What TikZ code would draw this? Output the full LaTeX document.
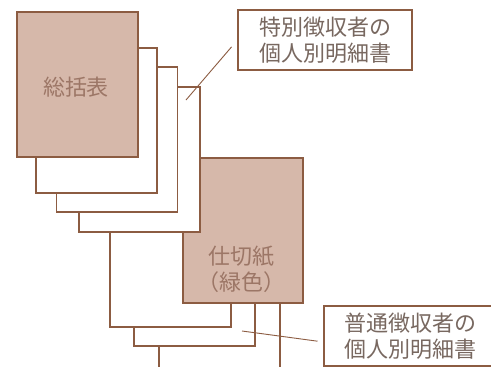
\documentclass[tikz,border=0pt]{standalone}
\usepackage{fontspec}
\newfontfamily\jpfont{Noto Sans CJK JP}
\definecolor{sheetline}{RGB}{140,92,66}
\definecolor{sheetfill}{RGB}{214,184,170}
\definecolor{sheettext}{RGB}{156,118,102}
\definecolor{boxtext}{RGB}{120,104,96}
\tikzset{
  sheet/.style={draw=sheetline, fill=white, line width=1.1pt, inner sep=0pt,
    minimum width=121pt, minimum height=145pt},
  tinted/.style={sheet, fill=sheetfill},
  sheetlabel/.style={font=\jpfont\fontsize{22}{26}\selectfont, text=sheettext, align=center},
  callout/.style={draw=sheetline, fill=white, line width=1.1pt, inner sep=0pt,
    font=\jpfont\fontsize{22}{26}\selectfont, text=boxtext, align=center},
  leader/.style={draw=sheetline, line width=0.9pt}
}
\begin{document}
\begin{tikzpicture}[x=1pt, y=-1pt]
  \clip (0,0) rectangle (491,367);
  \fill[white] (0,0) rectangle (491,367);
  \path
    (219.5,300) node[sheet] (s7){}
    (194.5,273.5) node[sheet] (s6){}
    (170.5,254.5) node[sheet] (s5){}
    (243,230.5) node[tinted, minimum width=120pt] (divider){}
    (139.5,159.5) node[sheet] (s4){}
    (117,139.5) node[sheet] (s3){}
    (96.5,120.5) node[sheet] (s2){}
    (77.5,84.5) node[tinted] (summary){};
  \node[sheetlabel] (summarytext) at (76,87) {総括表};
  \node[sheetlabel] (dividertext) at (241,269) {仕切紙\\（緑色）};
  \node[callout, minimum width=174pt, minimum height=60pt] (special) at (325,40)
    {特別徴収者の\\個人別明細書};
  \node[callout, minimum width=172pt, minimum height=60pt] (ordinary) at (410,336)
    {普通徴収者の\\個人別明細書};
  \coordinate (specialtip) at (186,100);
  \coordinate (ordinarytip) at (242,331);
  \begin{scope}[leader]
    \draw[shorten >=9pt] (specialtip) -- (special.west);
    \draw[shorten >=6pt] (ordinarytip) -- ([yshift=-6pt]ordinary.west);
  \end{scope}
\end{tikzpicture}
\end{document}
